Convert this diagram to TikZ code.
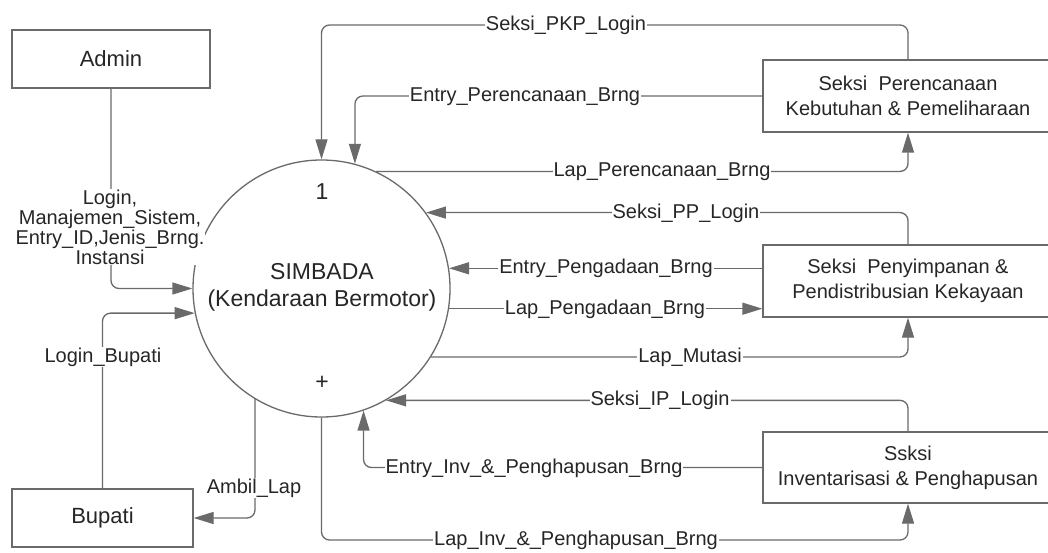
\documentclass[tikz,border=0pt]{standalone}
\usepackage{fontspec}
\setmainfont{Liberation Sans}
\usetikzlibrary{arrows.meta}
\definecolor{ln}{HTML}{6A6A6A}
\definecolor{tx}{HTML}{262626}
\begin{document}
\begin{tikzpicture}[x=1pt,y=-1pt,
  flow/.style={draw=ln, line width=1.3pt, rounded corners=8pt,
    -{Triangle[length=20pt,width=12pt,fill=ln,color=ln]}},
  ent/.style={draw=ln, line width=1.3pt, inner sep=0pt, text=tx, align=center,
    font=\fontsize{20}{25}\selectfont},
  lbl/.style={fill=white, inner sep=1pt, text=tx, align=center,
    font=\fontsize{20}{20}\selectfont},
  ptxt/.style={inner sep=0pt, text=tx, font=\fontsize{23}{23}\selectfont}]
\useasboundingbox (0,0) rectangle (1048,553);
\clip (0,0) rectangle (1048,553);
\fill[white] (0,0) rectangle (1048,553);

% process
\node[draw=ln, line width=1.3pt, circle, minimum size=257pt, inner sep=0pt] (circ) at (321.5,288.5) {};
\node[ptxt] (pnum) at (322,192) {1};
\node[ptxt] (pname1) at (322,272) {SIMBADA};
\node[ptxt] (pname2) at (322,301) {(Kendaraan Bermotor)};
\node[ptxt] (pplus) at (322,383) {+};

% entities
\node[ent, minimum width=198pt, minimum height=58pt, font=\fontsize{22}{22}\selectfont] (admin) at (111,59) {Admin};
\node[ent, minimum width=181pt, minimum height=58pt, font=\fontsize{22}{22}\selectfont] (bupati) at (102.5,518) {Bupati};
\node[ent, minimum width=290pt, minimum height=72pt] (b1) at (908,96) {Seksi\ \ Perencanaan\\Kebutuhan \& Pemeliharaan};
\node[ent, minimum width=290pt, minimum height=72pt] (b2) at (908,281) {Seksi\ \ Penyimpanan \&\\Pendistribusian Kekayaan};
\node[ent, minimum width=290pt, minimum height=71pt] (b3) at (908,467.5) {Ssksi\\Inventarisasi \& Penghapusan};

% flows
\draw[flow] (admin.south) |- (circ.west);
\draw[flow] (bupati.north) |- (circ.191);
\draw[flow] (circ.239) |- (bupati.east);
\draw[flow] (b1.north) -- (b1.north |- 0,25) -- (circ.north |- 0,25) -- (circ.north);
\draw[flow] (b1.west) -| (circ.75);
\draw[flow] (circ.65) -| (b1.south);
\draw[flow] (b2.north) |- (circ.36);
\draw[flow] (b2.west |- circ.9) -- (circ.9);
\draw[flow] (circ.-9) -- (b2.west |- circ.-9);
\draw[flow] (circ.-32) -| (b2.south);
\draw[flow] (b3.north) |- (circ.-60);
\draw[flow] (b3.west) -| (circ.-71);
\draw[flow] (circ.south) -- (circ.south |- 0,540) -- (b3.south |- 0,540) -- (b3.south);

% labels
\node[lbl] (l0) at (110,227) {Login,\\Manajemen\_Sistem,\\Entry\_ID,Jenis\_Brng.\\Instansi};
\node[lbl] (l1) at (103,357) {Login\_Bupati};
\node[lbl] (l2) at (254,488) {Ambil\_Lap};
\node[lbl] (l3) at (566,25) {Seksi\_PKP\_Login};
\node[lbl] (l4) at (525,97) {Entry\_Perencanaan\_Brng};
\node[lbl] (l5) at (662,172) {Lap\_Perencanaan\_Brng};
\node[lbl] (l6) at (686,213) {Seksi\_PP\_Login};
\node[lbl] (l7) at (606,268) {Entry\_Pengadaan\_Brng};
\node[lbl] (l8) at (605,309) {Lap\_Pengadaan\_Brng};
\node[lbl] (l9) at (690,357) {Lap\_Mutasi};
\node[lbl] (l10) at (660,400) {Seksi\_IP\_Login};
\node[lbl] (l11) at (534,468) {Entry\_Inv\_\&\_Penghapusan\_Brng};
\node[lbl] (l12) at (576,540) {Lap\_Inv\_\&\_Penghapusan\_Brng};
\end{tikzpicture}
\end{document}
